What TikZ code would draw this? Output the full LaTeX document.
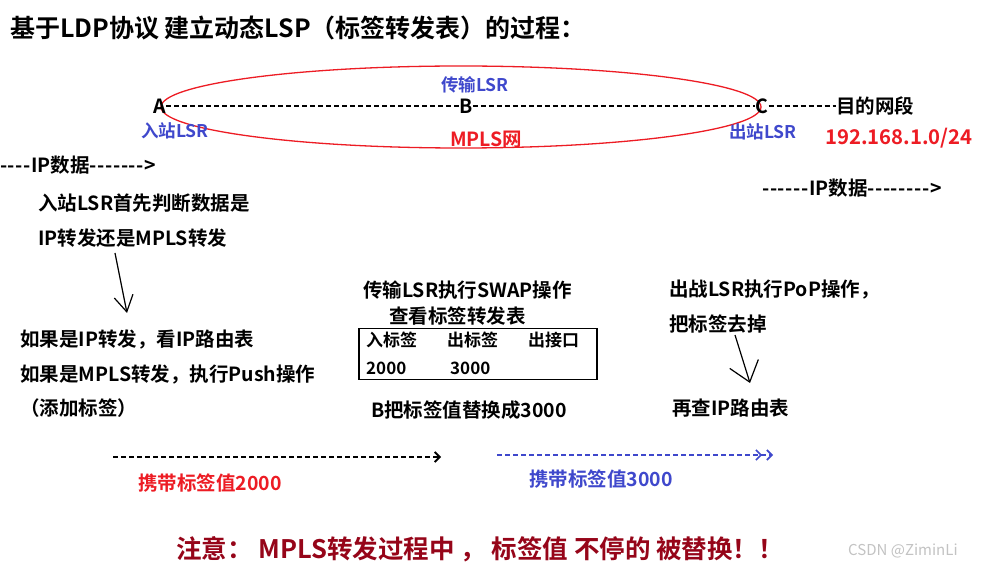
\documentclass[tikz,border=0pt]{standalone}
\usepackage{fontspec}
\setmainfont{Noto Sans CJK SC}[BoldFont={Noto Sans CJK SC Bold}]
\usetikzlibrary{arrows.meta}
\definecolor{myred}{RGB}{237,28,36}
\definecolor{myblue}{RGB}{63,72,204}
\definecolor{mydarkred}{RGB}{150,5,25}
\definecolor{wm}{RGB}{195,195,195}
\newcommand{\hy}{-\kern0.6pt\relax}
\begin{document}
\begin{tikzpicture}[x=1pt,y=-1pt,
  every node/.style={inner sep=0pt},
  txt/.style={anchor=west, font=\fontsize{19.5}{22}\selectfont\bfseries},
  lbl/.style={font=\fontsize{17.5}{20}\selectfont\bfseries, text=myblue},
  tcell/.style={anchor=west, font=\fontsize{17}{20}\selectfont\bfseries},
  dashln/.style={dash pattern=on 5pt off 3pt, line width=1.6pt},
  barb/.style={line width=1.2pt, -{Straight Barb[length=16pt,width=19pt]}}]
\useasboundingbox[fill=white] (0,0) rectangle (983,569);

% title
\node[anchor=west, font=\fontsize{25}{28}\selectfont\bfseries] (title) at (10,28) {基于LDP协议 建立动态LSP（标签转发表）的过程：};

% MPLS network
\draw[myred, line width=1.3pt] (461,107) ellipse [x radius=300pt, y radius=41pt];
\node[font=\fontsize{19.5}{22}\selectfont\bfseries] (A) at (160,106) {A};
\node[font=\fontsize{19.5}{22}\selectfont\bfseries] (B) at (466,106) {B};
\node[font=\fontsize{19.5}{22}\selectfont\bfseries] (C) at (762,106) {C};
\node[txt] (dst) at (836,106) {目的网段};
\draw[dashln] (A.east) -- (B.west);
\draw[dashln] (B.east) -- (C.west);
\draw[dashln] (C.east) -- (dst.west);
\node[lbl] (transit) at (475,85) {传输LSR};
\node[lbl] (ingress) at (175,131) {入站LSR};
\node[lbl] (egress) at (763,132) {出站LSR};
\node[font=\fontsize{19.5}{22}\selectfont\bfseries, text=myred] (mpls) at (486,140) {MPLS网};
\node[anchor=west, font=\fontsize{20.3}{24}\selectfont\bfseries, text=myred] (net) at (825,138) {192.168.1.0/24};

% IP data
\node[txt] (ipin) at (0,165) {\hy\hy\hy\hy IP数据\hy\hy\hy\hy\hy\hy\hy>};
\node[txt] (ipout) at (762,188) {\hy\hy\hy\hy\hy\hy IP数据\hy\hy\hy\hy\hy\hy\hy\hy>};

% ingress
\node[txt] (in1) at (38,203) {入站LSR首先判断数据是};
\node[txt] (in2) at (38,238) {IP转发还是MPLS转发};
\coordinate (a1s) at (115,253);
\coordinate (a1e) at (127,313);
\draw[barb] (a1s) -- (a1e);
\node[txt] (in3) at (20,339) {如果是IP转发，看IP路由表};
\node[txt] (in4) at (20,374) {如果是MPLS转发，执行Push操作};
\node[txt] (in5) at (20,408) {（添加标签）};

% transit
\node[txt] (tr1) at (363,290) {传输LSR执行SWAP操作};
\node[txt] (tr2) at (389,316) {查看标签转发表};
\node[draw, line width=1.5pt, anchor=north west, minimum width=238pt, minimum height=51pt] (tbl) at (358,328) {};
\node[tcell] (h1) at (366,340) {入标签};
\node[tcell] (h2) at (447,340) {出标签};
\node[tcell] (h3) at (528,340) {出接口};
\node[tcell] (v1) at (366,368) {2000};
\node[tcell] (v2) at (450,368) {3000};
\node[txt] (tr3) at (371,410) {B把标签值替换成3000};

% egress
\node[txt] (eg1) at (669,290) {出战LSR执行PoP操作，};
\node[txt] (eg2) at (669,324) {把标签去掉};
\coordinate (a2s) at (735,335);
\coordinate (a2e) at (750,383);
\draw[line width=1.2pt, -{Straight Barb[length=19pt,width=30pt]}] (a2s) -- (a2e);
\node[txt] (eg3) at (672,408) {再查IP路由表};

% label carrying arrows
\coordinate (l1s) at (113,457);
\coordinate (l1e) at (441,457);
\draw[dashln, line width=1.6pt, -{Straight Barb[length=5pt,width=10pt,line width=1.8pt]}] (l1s) -- (l1e);
\node[txt, text=myred] (c1) at (138,483) {携带标签值2000};
\coordinate (l2s) at (497,455);
\coordinate (l2e) at (773,455);
\draw[dashln, line width=1.4pt, myblue, -{Straight Barb[length=5pt,width=10pt,line width=1.6pt,sep=4pt] Straight Barb[length=5pt,width=10pt,line width=1.6pt]}] (l2s) -- (l2e);
\node[txt, text=myblue] (c2) at (529,479) {携带标签值3000};

% note
\node[anchor=west, font=\fontsize{25.5}{28}\selectfont\bfseries, text=mydarkred] (note) at (176,549) {注意： MPLS转发过程中 ， 标签值 不停的 被替换！！};
\node[anchor=west, font=\fontsize{15}{18}\selectfont, text=wm] (wmark) at (848,551) {CSDN @ZiminLi};
\end{tikzpicture}
\end{document}
